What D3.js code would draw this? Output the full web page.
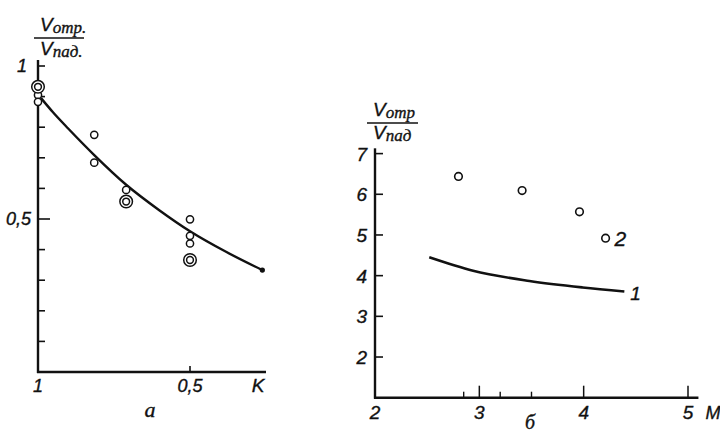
<!DOCTYPE html>
<html><head><meta charset="utf-8">
<script src="https://cdn.jsdelivr.net/npm/d3@7"></script>
<style>
html,body{margin:0;padding:0;background:#fff;}
svg{display:block;}
text{font-family:"Liberation Sans",Arial,sans-serif;font-style:italic;fill:#111;stroke:#111;stroke-width:0.35;}
.cyr{font-family:"Liberation Serif",serif;font-style:italic;}
</style></head>
<body>
<svg id="c" width="720" height="434"></svg>
<script>
// Panel a: x = K (reversed), y = V_отр./V_пад.
const aYTicks = [0.1,0.2,0.3,0.4,0.5,0.6,0.7,0.8,0.9,1.0];
const aYLabels = [{v:1,t:"1"},{v:0.5,t:"0,5"}];
const aXLabels = [{v:1,t:"1"},{v:0.5,t:"0,5"}];
const aSingle = [[1,0.905],[1,0.883],[0.815,0.775],[0.815,0.684],[0.71,0.595],[0.5,0.499],[0.5,0.445],[0.5,0.42]];
const aDouble = [[1,0.932],[0.71,0.557],[0.5,0.366]];
const aCurve = [[0.99,0.895],[0.95,0.848],[0.9,0.795],[0.815,0.709],[0.71,0.612],[0.6,0.528],[0.5,0.46],[0.38,0.392],[0.262,0.333]];

// Panel б: x = M, y = V_отр./V_пад.
const bYTicks = [2,3,4,5,6,7];
const bXMajor = [3,4,5];
const bXMinor = [2.85,3.2,3.5];
const bXLabels = [2,3,4,5];
const bPoints2 = [[2.80,6.44],[3.41,6.09],[3.96,5.57],[4.21,4.92]];
const bCurve1 = [[2.52,4.45],[2.94,4.12],[3.48,3.87],[3.99,3.71],[4.39,3.61]];

const svg = d3.select("#c");
const ink = "#111";
const line = d3.line().curve(d3.curveMonotoneX);

// ---------- Panel a ----------
const ax = d3.scaleLinear().domain([1,0.5]).range([38,190]);
const ay = d3.scaleLinear().domain([0,1]).range([372,66]);
const ga = svg.append("g");
ga.append("line").attr("x1",ax(1)).attr("x2",ax(1)).attr("y1",ay(1.02)).attr("y2",ay(0)+1)
  .attr("stroke",ink).attr("stroke-width",2.4);
ga.append("line").attr("x1",ax(1)-1).attr("x2",ax(0.25)).attr("y1",ay(0)).attr("y2",ay(0))
  .attr("stroke",ink).attr("stroke-width",2.4);
ga.selectAll(".yt").data(aYTicks).join("line")
  .attr("x1",ax(1)).attr("x2",d=>ax(1)+(d===0.5?12:7))
  .attr("y1",d=>ay(d)).attr("y2",d=>ay(d)).attr("stroke",ink).attr("stroke-width",1.6);
ga.append("line").attr("x1",ax(0.5)).attr("x2",ax(0.5)).attr("y1",ay(0)).attr("y2",ay(0)-6)
  .attr("stroke",ink).attr("stroke-width",1.6);
ga.selectAll(".yl").data(aYLabels).join("text")
  .attr("x",d=>d.v===1?27:31).attr("y",d=>ay(d.v)+6).attr("text-anchor","end")
  .attr("font-size",18).text(d=>d.t);
ga.selectAll(".xl").data(aXLabels).join("text")
  .attr("x",d=>ax(d.v)).attr("y",ay(0)+20).attr("text-anchor","middle")
  .attr("font-size",18).text(d=>d.t);
ga.append("text").attr("x",258).attr("y",ay(0)+20).attr("text-anchor","middle")
  .attr("font-size",19).text("K");
ga.append("path").attr("d",line(aCurve.map(d=>[ax(d[0]),ay(d[1])])))
  .attr("fill","none").attr("stroke",ink).attr("stroke-width",2.4);
ga.append("circle").attr("cx",ax(0.262)).attr("cy",ay(0.333)).attr("r",2.6).attr("fill",ink);
ga.selectAll(".s").data(aSingle).join("circle")
  .attr("cx",d=>ax(d[0])).attr("cy",d=>ay(d[1])).attr("r",3.6)
  .attr("fill","#fff").attr("stroke",ink).attr("stroke-width",1.5);
aDouble.forEach(d=>{
  ga.append("circle").attr("cx",ax(d[0])).attr("cy",ay(d[1])).attr("r",6.3)
    .attr("fill","#fff").attr("stroke",ink).attr("stroke-width",1.5);
  ga.append("circle").attr("cx",ax(d[0])).attr("cy",ay(d[1])).attr("r",3.4)
    .attr("fill","none").attr("stroke",ink).attr("stroke-width",1.5);
});
// fraction label
function frac(g,x,yTop,yLine,yBot,x2,top,bot){
  const t1 = g.append("text").attr("x",x).attr("y",yTop).attr("class","cyr");
  t1.append("tspan").attr("font-size",19).attr("font-family","Liberation Sans").text("V");
  t1.append("tspan").attr("font-size",17).attr("dy",2).text(top);
  g.append("line").attr("x1",x-6).attr("x2",x2).attr("y1",yLine).attr("y2",yLine)
    .attr("stroke",ink).attr("stroke-width",1.6);
  const t2 = g.append("text").attr("x",x).attr("y",yBot).attr("class","cyr");
  t2.append("tspan").attr("font-size",19).attr("font-family","Liberation Sans").text("V");
  t2.append("tspan").attr("font-size",17).attr("dy",2).text(bot);
}
frac(ga,40,31,38,55,84,"отр.","пад.");
ga.append("text").attr("x",150).attr("y",417).attr("class","cyr").attr("text-anchor","middle")
  .attr("font-size",22).text("а");

// ---------- Panel б ----------
const bx = d3.scaleLinear().domain([2,5]).range([375,688]);
const by = d3.scaleLinear().domain([1,7]).range([397.7,153.6]);
const gb = svg.append("g");
gb.append("line").attr("x1",bx(2)).attr("x2",bx(2)).attr("y1",by(7.13)).attr("y2",by(1)+1)
  .attr("stroke",ink).attr("stroke-width",2.4);
gb.append("line").attr("x1",bx(2)-1).attr("x2",bx(5.1)).attr("y1",by(1)).attr("y2",by(1))
  .attr("stroke",ink).attr("stroke-width",2.4);
gb.selectAll(".yt").data(bYTicks).join("line")
  .attr("x1",bx(2)).attr("x2",bx(2)+8).attr("y1",d=>by(d)).attr("y2",d=>by(d))
  .attr("stroke",ink).attr("stroke-width",1.6);
gb.selectAll(".xM").data(bXMajor).join("line")
  .attr("x1",d=>bx(d)).attr("x2",d=>bx(d)).attr("y1",by(1)).attr("y2",by(1)-12)
  .attr("stroke",ink).attr("stroke-width",1.5);
gb.selectAll(".xm").data(bXMinor).join("line")
  .attr("x1",d=>bx(d)).attr("x2",d=>bx(d)).attr("y1",by(1)).attr("y2",by(1)-6)
  .attr("stroke",ink).attr("stroke-width",1.4);
gb.selectAll(".yl").data(bYTicks).join("text")
  .attr("x",bx(2)-8).attr("y",d=>by(d)+7).attr("text-anchor","end")
  .attr("font-size",19).text(d=>d);
gb.selectAll(".xl").data(bXLabels).join("text")
  .attr("x",d=>bx(d)).attr("y",by(1)+21).attr("text-anchor","middle")
  .attr("font-size",19).text(d=>d);
gb.append("text").attr("x",713).attr("y",by(1)+21).attr("text-anchor","middle")
  .attr("font-size",18).attr("font-style","normal").attr("font-family","DejaVu Sans").attr("stroke-width",0).text("M");
gb.append("path").attr("d",line(bCurve1.map(d=>[bx(d[0]),by(d[1])])))
  .attr("fill","none").attr("stroke",ink).attr("stroke-width",2.6);
gb.selectAll(".p").data(bPoints2).join("circle")
  .attr("cx",d=>bx(d[0])).attr("cy",d=>by(d[1])).attr("r",3.8)
  .attr("fill","#fff").attr("stroke",ink).attr("stroke-width",1.6);
gb.append("text").attr("x",bx(4.21)+9).attr("y",by(4.92)+8).attr("font-size",21)
  .attr("font-style","normal").text("2");
gb.append("text").attr("x",bx(4.39)+6).attr("y",by(3.61)+8).attr("font-size",19).text("1");
frac(gb,373,116,123,139,418,"отр","пад");
gb.append("text").attr("x",530).attr("y",429).attr("class","cyr").attr("text-anchor","middle")
  .attr("font-size",20).text("б");
</script>
</body></html>
